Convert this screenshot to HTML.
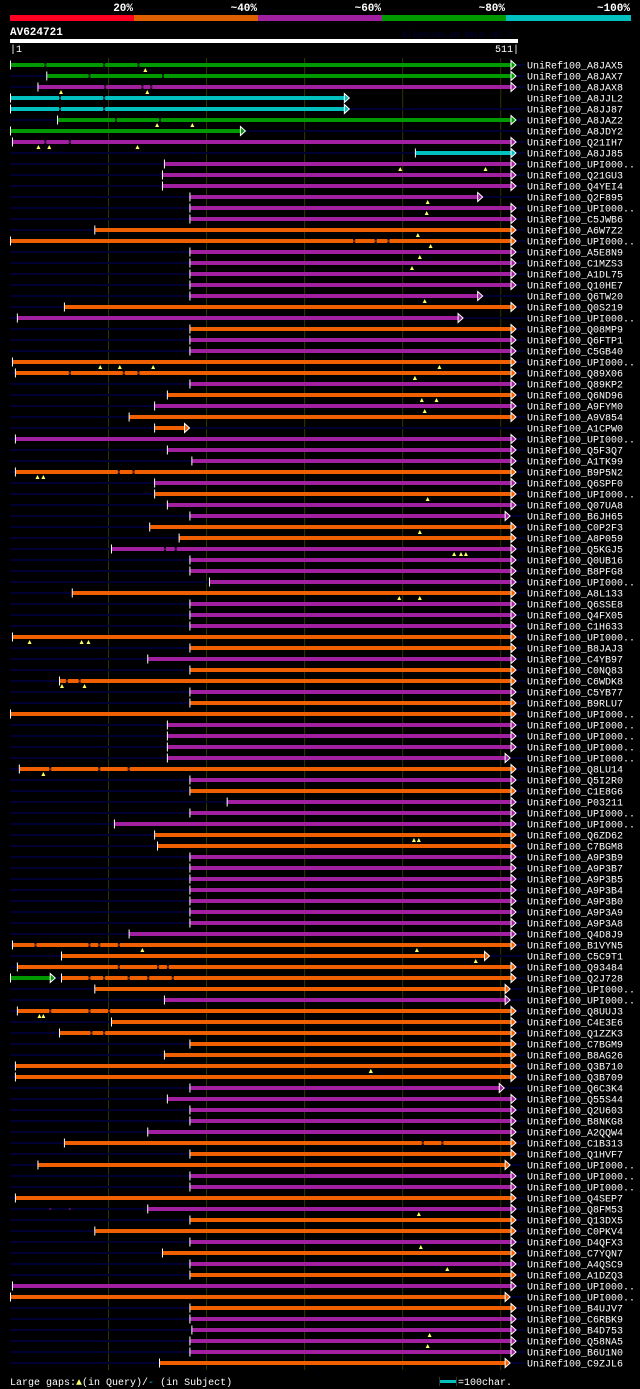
<!DOCTYPE html>
<html><head><meta charset="utf-8">
<style>
html,body{margin:0;padding:0;background:#000;}
svg{display:block;}
text{font-family:"Liberation Mono","DejaVu Sans Mono",monospace;}
</style></head>
<body>
<svg id="chart" width="640" height="1389" viewBox="0 0 640 1389" xmlns="http://www.w3.org/2000/svg">
  <rect x="0" y="0" width="640" height="1389" fill="#000"/>
  <g>
    <text x="133" y="11" fill="#fff" font-size="11" font-weight="bold" text-anchor="end">20%</text>
    <text x="257" y="11" fill="#fff" font-size="11" font-weight="bold" text-anchor="end">~40%</text>
    <text x="381" y="11" fill="#fff" font-size="11" font-weight="bold" text-anchor="end">~60%</text>
    <text x="505" y="11" fill="#fff" font-size="11" font-weight="bold" text-anchor="end">~80%</text>
    <text x="630" y="11" fill="#fff" font-size="11" font-weight="bold" text-anchor="end">~100%</text>
    <rect x="10" y="15" width="124" height="6" fill="#ff0022"/>
    <rect x="134" y="15" width="124" height="6" fill="#e06000"/>
    <rect x="258" y="15" width="124" height="6" fill="#a020a0"/>
    <rect x="382" y="15" width="124" height="6" fill="#009900"/>
    <rect x="506" y="15" width="125" height="6" fill="#00c0c0"/>
  </g>
  <text x="10" y="35" fill="#fff" font-size="11" font-weight="bold">AV624721</text>
  <text x="402" y="37" fill="#000040" font-size="8">AlignView.pm Beta rel.7</text>
  <rect x="10" y="39" width="508" height="4" fill="#fff"/>
  <text x="10" y="52" fill="#fff" font-size="10">|1</text>
  <text x="519" y="52" fill="#fff" font-size="10" text-anchor="end">511|</text>
  <g id="grid"></g>
  <g id="rows"></g>
  <g>
    <text x="10" y="1385" fill="#fff" font-size="10">Large gaps:<tspan fill="#ffff66">▲</tspan>(in Query)/<tspan fill="#00c0c0">-</tspan> (in Subject)</text>
    <rect x="440" y="1380" width="16" height="3" fill="#00c0c0"/>
    <rect x="439" y="1377" width="1" height="9" fill="#333"/>
    <rect x="456" y="1377" width="1" height="9" fill="#333"/>
    <text x="458" y="1385" fill="#fff" font-size="10">=100char.</text>
  </g>
</svg>
<script>
const names = ["A8JAX5","A8JAX7","A8JAX8","A8JJL2","A8JJ87","A8JAZ2","A8JDY2","Q21IH7","A8JJ85","UPI000..","Q21GU3","Q4YEI4","Q2F895","UPI000..","C5JWB6","A6W7Z2","UPI000..","A5E8N9","C1MZS3","A1DL75","Q10HE7","Q6TW20","Q0S219","UPI000..","Q08MP9","Q6FTP1","C5GB40","UPI000..","Q89X06","Q89KP2","Q6ND96","A9FYM0","A9V854","A1CPW0","UPI000..","Q5F3Q7","A1TK99","B9P5N2","Q6SPF0","UPI000..","Q07UA8","B6JH65","C0P2F3","A8P059","Q5KGJ5","Q0UB16","B8PFG8","UPI000..","A8L133","Q6SSE8","Q4FX05","C1H633","UPI000..","B8JAJ3","C4YB97","C0NQ83","C6WDK8","C5YB77","B9RLU7","UPI000..","UPI000..","UPI000..","UPI000..","UPI000..","Q8LU14","Q5I2R0","C1E8G6","P03211","UPI000..","UPI000..","Q6ZD62","C7BGM8","A9P3B9","A9P3B7","A9P3B5","A9P3B4","A9P3B0","A9P3A9","A9P3A8","Q4D8J9","B1VYN5","C5C9T1","Q93484","Q2J728","UPI000..","UPI000..","Q8UUJ3","C4E3E6","Q1ZZK3","C7BGM9","B8AG26","Q3B710","Q3B709","Q6C3K4","Q55S44","Q2U603","B8NKG8","A2QQW4","C1B313","Q1HVF7","UPI000..","UPI000..","UPI000..","Q4SEP7","Q8FM53","Q13DX5","C0PKV4","D4QFX3","C7YQN7","A4QSC9","A1DZQ3","UPI000..","UPI000..","B4UJV7","C6RBK9","B4D753","Q58NA5","B6U1N0","C9ZJL6"];
// identity class: g=green, c=cyan, p=purple, o=orange
const classes = ("ggpccggpcp"+"pppppooppp"+"ppopoppoop"+"opoopppopo"+"ppooppppop"+"ppoopoopoo"+"ppppopoppp"+"oopppppppp"+"ooooopoooo"+"ooopppppoo"+"oppopoopop"+"opooppppo").split("");
const starts = [1,38,29,1,1,49,1,3,414,158,156,156,184,184,184,87,1,184,184,184,184,184,56,8,184,184,184,3,6,184,161,148,122,148,6,161,186,6,148,148,161,184,143,173,104,184,184,204,64,184,184,184,3,184,141,184,51,184,184,1,161,161,161,161,10,184,184,222,184,107,148,151,184,184,184,184,184,184,184,122,3,53,8,53,87,158,8,104,51,184,158,6,6,184,161,184,184,141,56,184,29,184,184,6,141,184,87,184,156,184,184,3,1,184,184,186,184,184,153];
const ends = [511,511,511,341,341,511,235,511,511,511,511,511,477,511,511,511,511,511,511,511,511,477,511,457,511,511,511,511,511,511,511,511,511,178,511,511,511,511,511,511,511,505,511,511,511,511,511,511,511,511,511,511,511,511,511,511,511,511,511,511,511,511,511,505,511,511,511,511,511,511,511,511,511,511,511,511,511,511,511,511,511,484,511,511,505,505,511,511,511,511,511,511,511,499,511,511,511,511,511,511,505,511,511,511,511,511,511,511,511,511,511,511,505,511,511,511,511,511,505];
// extra green leading hit in row Q2J728 (index 83)
const extraRow = [83];
const extraStart = [1];
const extraEnd = [41];
// large query gaps (row index, position)
const gapRows = [0,2,2,5,5,7,7,7,9,9,12,13,15,16,17,18,21,27,27,27,27,28,28,30,30,31,37,37,39,42,44,44,44,48,48,52,52,52,56,56,64,70,70,80,80,81,86,86,91,91,104,107,109,115,116];
const gapPos  = [138,52,140,150,186,29,40,130,398,485,426,425,416,429,418,410,423,438,92,112,146,413,413,420,435,423,28,34,426,418,453,460,465,397,418,20,73,80,53,76,34,412,417,415,135,475,30,34,368,368,417,419,446,428,426];
const segments = {0:[35,95,130],1:[80,155],2:[96,134,143],3:[50,95],4:[50,95],5:[107,152],7:[35,60],16:[350,372,385],28:[60,115,130],37:[110,125],44:[157,168],56:[57,70],64:[40,90,120],80:[25,80,90,110],82:[110,150,160],83:[80,95,120,140,165],86:[40,80,100],88:[82,95],98:[420,440],104:[40,60]};

const colorMap = {g:"#009900", c:"#00c0c0", p:"#a020a0", o:"#f06000"};
const NS = "http://www.w3.org/2000/svg";
const X0 = 11, X1 = 511, QLEN = 511;
function xScale(pos){ return X0 + (pos - 1) * (X1 - X0) / (QLEN - 1); }
function yRow(i){ return 65 + i * 11; }

function mk(tag, attrs, parent){
  const e = document.createElementNS(NS, tag);
  for (const k in attrs) e.setAttribute(k, attrs[k]);
  parent.appendChild(e);
  return e;
}

const grid = document.getElementById("grid");
[100,200,300,400,500].forEach(p => {
  const gl = mk("line", {x1: xScale(p)+0.5, x2: xScale(p)+0.5, y1: 58, y2: 1370, stroke: "#333300", "stroke-width": 1}, grid);
  
  
});

const rowsG = document.getElementById("rows");
function drawHit(g, y, s, e, col){
  const xs = xScale(s), xe = xScale(e);
  const bar = mk("rect", {x: xs, y: y - 2, width: xe - xs, height: 4, fill: col}, g);
  
  
  const tick = mk("rect", {x: xs - 1, y: y - 4.5, width: 1, height: 9, fill: "#fff"}, g);
  
  
  const ar = mk("polygon", {points: `${xe},${y-4.5} ${xe+5},${y} ${xe},${y+4.5}`, fill: col, stroke: "#fff", "stroke-width": 1}, g);
  
  
}
names.forEach((nm, i) => {
  const y = yRow(i);
  const g = mk("g", {}, rowsG);
  
  
  const col = colorMap[classes[i]];
  if (i !== 3) {
    const bg = mk("rect", {x: 10, y: y - 1, width: 515, height: 2, fill: "#000033"}, g);
    
    
  }
  drawHit(g, y, starts[i], ends[i], col);
  (segments[i] || []).forEach(p => {
    const br = mk("rect", {x: xScale(p), y: y - 2, width: 2, height: 4, fill: "#000"}, g);
    
    
    mk("rect", {x: xScale(p), y: y - 0.5, width: 2, height: 1, fill: col}, g);
  });
  const t = mk("text", {x: 527, y: y + 3.5, fill: "#fff", "font-size": 10}, g);
  t.textContent = "UniRef100_" + nm;
  
  
});
extraRow.forEach((r, k) => {
  const g = mk("g", {}, rowsG);
  
  
  drawHit(g, yRow(r), extraStart[k], extraEnd[k], colorMap.g);
});

gapRows.forEach((r, k) => {
  const x = xScale(gapPos[k]);
  const y = yRow(r) + 3;
  const tri = mk("polygon", {points: `${x-2},${y+4} ${x},${y} ${x+2},${y+4}`, fill: "#ffff66"}, rowsG);
  
  
});
</script>
</body></html>
